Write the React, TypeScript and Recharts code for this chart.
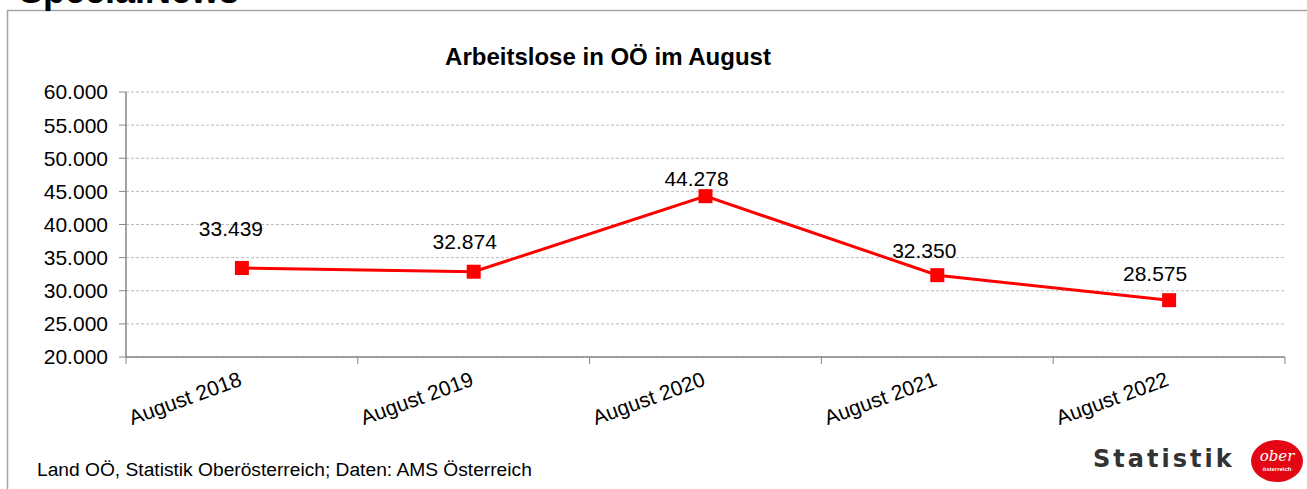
import React from 'react';
import { LineChart, Line, XAxis, YAxis, CartesianGrid, LabelList } from 'recharts';

const categories = ['August 2018', 'August 2019', 'August 2020', 'August 2021', 'August 2022'];
const unemployed = [33439, 32874, 44278, 32350, 28575];
const yTicks = [20000, 25000, 30000, 35000, 40000, 45000, 50000, 55000, 60000];
// per-label nudges (dx, dy) relative to the marker, as placed in the original
const labelNudge = [[-11, -39], [-9, -30], [-9, -18], [-13, -25], [-14, -27]];

const data = categories.map((c, i) => ({ month: c, value: unemployed[i] }));

const FONT = '"Liberation Sans", Arial, Helvetica, sans-serif';
const AXIS = '#868686';
const PLOT_W = 1159;
const HALF_BAND = PLOT_W / categories.length / 2;

const fmt = (v: number) => String(Math.round(v)).replace(/\B(?=(\d{3})+(?!\d))/g, '.');

const XTick = (props: any) => {
  const { x, y, payload, index, visibleTicksCount } = props;
  const n = visibleTicksCount || categories.length;
  const ty = y + 28;
  return (
    <g>
      <line x1={x - HALF_BAND} x2={x - HALF_BAND} y1={y} y2={y + 7} stroke={AXIS} strokeWidth={1} />
      {index === n - 1 && (
        <line x1={x + HALF_BAND} x2={x + HALF_BAND} y1={y} y2={y + 7} stroke={AXIS} strokeWidth={1} />
      )}
      <text
        x={x + 1}
        y={ty}
        transform={`rotate(-20, ${x + 1}, ${ty})`}
        textAnchor="end"
        fontSize={21}
        fontFamily={FONT}
        fill="#000"
      >
        {payload.value}
      </text>
    </g>
  );
};

const renderLabel = (p: any) => {
  const { x, y, value, index } = p;
  const [dx, dy] = labelNudge[index] || [0, -25];
  return (
    <text
      key={`lbl-${index}`}
      x={x + dx}
      y={y + dy}
      textAnchor="middle"
      dominantBaseline="central"
      fontSize={21}
      fontFamily={FONT}
      fill="#000"
    >
      {fmt(value)}
    </text>
  );
};

const renderDot = (p: any) => (
  <rect key={`dot-${p.index}`} x={p.cx - 7} y={p.cy - 7} width={14} height={14} fill="#FF0000" />
);

export default function App() {
  return (
    <div
      style={{
        position: 'absolute',
        left: 0,
        top: 0,
        width: 1307,
        height: 489,
        overflow: 'hidden',
        background: '#fff',
        fontFamily: FONT,
      }}
    >
      <LineChart
        width={1307}
        height={489}
        data={data}
        margin={{ top: 92, right: 22, bottom: 0, left: 0 }}
      >
        <CartesianGrid horizontal vertical={false} stroke="#BDBDBD" strokeDasharray="3 2" />
        <XAxis
          dataKey="month"
          height={132}
          padding={{ left: HALF_BAND, right: HALF_BAND }}
          axisLine={{ stroke: AXIS, strokeWidth: 1.5 }}
          tickLine={false}
          tickSize={0}
          tickMargin={0}
          interval={0}
          tick={<XTick />}
        />
        <YAxis
          width={126}
          domain={[20000, 60000]}
          ticks={yTicks}
          interval={0}
          allowDataOverflow
          axisLine={{ stroke: AXIS, strokeWidth: 1.5 }}
          tickLine={{ stroke: AXIS }}
          tickSize={7}
          tickMargin={11}
          tickFormatter={fmt}
          tick={{ fontSize: 21, fill: '#000', fontFamily: FONT }}
        />
        <Line
          type="linear"
          dataKey="value"
          stroke="#FF0000"
          strokeWidth={3}
          dot={renderDot}
          activeDot={false}
          isAnimationActive={false}
        >
          <LabelList dataKey="value" content={renderLabel} />
        </Line>
      </LineChart>
      <svg
        width={1307}
        height={489}
        style={{ position: 'absolute', left: 0, top: 0, pointerEvents: 'none' }}
      >
        <rect x={7.5} y={10.5} width={1400} height={600} fill="none" stroke="#A6A6A6" strokeWidth={1.5} />
        <text x={19} y={3} fontSize={36} fontWeight="bold" fontFamily={FONT} fill="#000">
          SpecialNews
        </text>
        <text x={608} y={65} textAnchor="middle" fontSize={24} fontWeight="bold" fontFamily={FONT} fill="#000">
          Arbeitslose in OÖ im August
        </text>
        <text x={37} y={476} fontSize={19.2} fontFamily={FONT} fill="#000">
          Land OÖ, Statistik Oberösterreich; Daten: AMS Österreich
        </text>
        <text
          x={1093}
          y={467}
          fontSize={24}
          fontWeight="bold"
          fontFamily='"DejaVu Sans", sans-serif'
          letterSpacing={3}
          fill="#333"
        >
          Statistik
        </text>
        <ellipse cx={1277} cy={461} rx={26} ry={21} fill="#E30613" />
        <text
          x={1277}
          y={461}
          textAnchor="middle"
          fontSize={15}
          fontStyle="italic"
          fontFamily='"DejaVu Serif", serif'
          fill="#fff"
        >
          ober
        </text>
        <text x={1277} y={471} textAnchor="middle" fontSize={6} fontWeight="bold" fontFamily={FONT} fill="#fff">
          österreich
        </text>
      </svg>
    </div>
  );
}
